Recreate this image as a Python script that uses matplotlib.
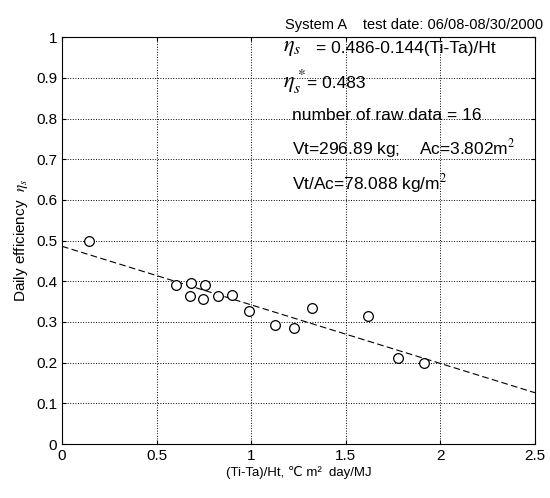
import matplotlib
matplotlib.use('Agg')
import matplotlib.pyplot as plt
import numpy as np

# measured points (Ti-Ta)/Ht vs daily efficiency
x_data = [0.142, 0.603, 0.682, 0.756, 0.677, 0.744, 0.826, 0.900,
          0.986, 1.125, 1.228, 1.321, 1.616, 1.775, 1.911]
y_data = [0.500, 0.391, 0.396, 0.391, 0.364, 0.357, 0.364, 0.366,
          0.327, 0.292, 0.285, 0.334, 0.314, 0.212, 0.198]

# fitted line eta = a - b*x
a, b = 0.486, 0.144
x_fit = [0.0, 2.5]
y_fit = [a - b * v for v in x_fit]

plt.rcParams['font.family'] = ['Liberation Sans', 'DejaVu Sans']
plt.rcParams['mathtext.fontset'] = 'stix'
font = {'size': 11}
note = 12.5

fig = plt.figure(figsize=(5.5, 4.98), dpi=100)
ax = fig.add_axes([0.1127, 0.1084, 0.86, 0.817])

ax.plot(x_fit, y_fit, '--', color='black', lw=0.8, dashes=(6, 3))
ax.plot(x_data, y_data, 'o', mfc='white', mec='black', ms=7, mew=0.9)

ax.set_xlim(0, 2.5)
ax.set_ylim(0, 1)
ax.set_xticks(np.arange(0, 2.51, 0.5))
ax.set_yticks(np.arange(0, 1.01, 0.1))
ax.set_xticklabels(['0', '0.5', '1', '1.5', '2', '2.5'], **font)
ax.set_yticklabels(['0', '0.1', '0.2', '0.3', '0.4', '0.5', '0.6', '0.7',
                    '0.8', '0.9', '1'], **font)
ax.tick_params(direction='in', length=3, top=True, right=True)
ax.grid(True, linestyle=':', color='black', lw=0.7)

ax.set_xlabel('(Ti-Ta)/Ht, \u2103 m\u00b2  day/MJ', fontsize=9.5, labelpad=2)
ax.set_ylabel('Daily efficiency  $\\eta_s$', fontsize=11, labelpad=4)
ax.set_title('System A    test date: 06/08-08/30/2000', fontsize=10.5,
             x=0.745, pad=6)

# eta symbols drawn a bit larger, as in the original
ax.text(1.17, 0.975, '$\\eta_s$', fontsize=16, va='center')
ax.text(1.34, 0.972, '= 0.486-0.144(Ti-Ta)/Ht', fontsize=note, va='center')
ax.text(1.17, 0.889, '$\\eta_s^*$', fontsize=16, va='center')
ax.text(1.295, 0.886, '= 0.483', fontsize=note, va='center')
ax.text(1.216, 0.808, 'number of raw data = 16', fontsize=note, va='center')
ax.text(1.216, 0.727, 'Vt=296.89 kg;    Ac=3.802m$^2$', fontsize=note, va='center')
ax.text(1.216, 0.641, 'Vt/Ac=78.088 kg/m$^2$', fontsize=note, va='center')

fig.savefig('out.png', dpi=100)
